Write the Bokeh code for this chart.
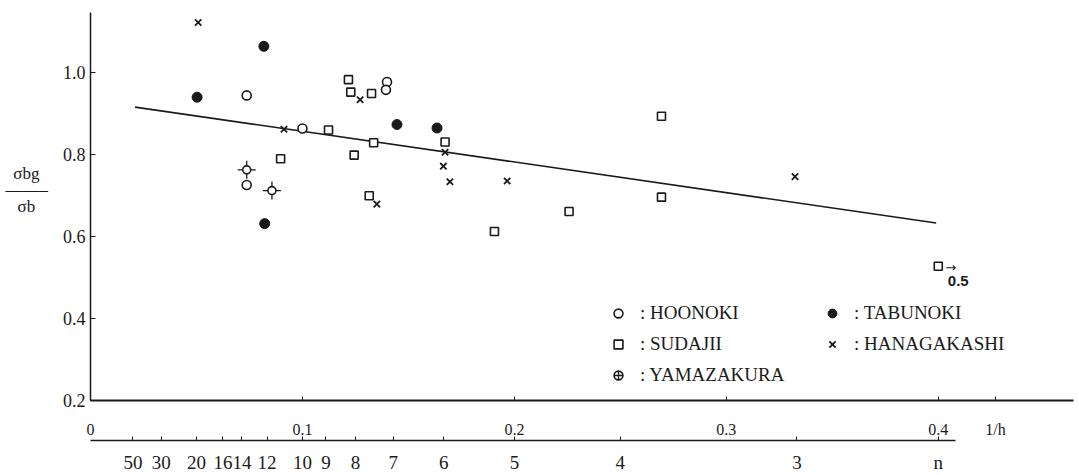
from bokeh.plotting import figure
from bokeh.models import (Range1d, FixedTicker, LinearAxis, CustomJSTickFormatter,
                          PrintfTickFormatter, Label, Legend, LegendItem)
from bokeh.embed import file_html
from bokeh.resources import INLINE

# ---------------- data (x = 1/h, y = sigma_bg / sigma_b) ----------------
hoonoki_x = [0.0737, 0.0737, 0.100, 0.1399, 0.1394]
hoonoki_y = [0.9435, 0.725, 0.863, 0.976, 0.957]

tabunoki_x = [0.0818, 0.0503, 0.0822, 0.1446, 0.1635]
tabunoki_y = [1.063, 0.939, 0.631, 0.8725, 0.864]

sudajii_x = [0.1123, 0.0897, 0.1244, 0.1217, 0.1228, 0.1326, 0.1336, 0.1673,
             0.1315, 0.2258, 0.1906, 0.2694, 0.2694, 0.400]
sudajii_y = [0.859, 0.789, 0.798, 0.982, 0.9515, 0.948, 0.828, 0.830,
             0.699, 0.6606, 0.612, 0.8926, 0.6955, 0.527]

hanagakashi_x = [0.0508, 0.0913, 0.1272, 0.1673, 0.1665, 0.1696, 0.1966, 0.1351, 0.3324]
hanagakashi_y = [1.121, 0.861, 0.933, 0.805, 0.771, 0.733, 0.735, 0.6785, 0.7455]

yamazakura_x = [0.0737, 0.0856]
yamazakura_y = [0.762, 0.7115]

fit_x = [0.021, 0.399]
fit_y = [0.915, 0.6325]

y_ticks = [0.2, 0.4, 0.6, 0.8, 1.0]
x_ticks = [0.0, 0.1, 0.2, 0.3, 0.4]
x_title_pos = 0.427          # where the "1/h" title sits on the 1/h axis
n_ticks = [50, 30, 20, 16, 14, 12, 10, 9, 8, 7, 6, 5, 4, 3]
n_title_pos = 0.4            # where the "n" title sits on the n axis

INK = "#1a1a1a"
SERIF = "Liberation Serif"
NB = "\u00a0"

p = figure(width=1079, height=475,
           x_range=Range1d(0, 0.4638), y_range=Range1d(0.2, 1.1455),
           output_backend="svg", toolbar_location=None,
           min_border_left=90, min_border_right=6, min_border_top=12,
           min_border_bottom=73)
p.outline_line_color = None
p.grid.visible = False
p.background_fill_color = "white"
p.border_fill_color = "white"

# y axis with fraction title (sigma_bg over sigma_b)
yax = p.yaxis[0]
yax.ticker = FixedTicker(ticks=y_ticks)
yax.formatter = PrintfTickFormatter(format="%.1f")
yax.major_tick_in = 5
yax.major_tick_out = 0
yax.minor_tick_in = 0
yax.minor_tick_out = 0
yax.axis_line_width = 1.5
yax.axis_line_color = INK
yax.major_tick_line_color = INK
yax.major_label_text_font = SERIF
yax.major_label_text_font_size = "18px"
yax.major_label_text_color = INK
yax.major_label_standoff = 5
yax.axis_label = "\n".join(["σbg" + NB * 2, "——–", "σb" + NB * 3, NB, NB])
yax.axis_label_orientation = "horizontal"
yax.axis_label_text_font = SERIF
yax.axis_label_text_font_style = "normal"
yax.axis_label_text_font_size = "17px"
yax.axis_label_text_line_height = 0.88
yax.axis_label_text_color = INK
yax.axis_label_standoff = 12

# primary x axis (1/h)
xax = p.xaxis[0]
xax.ticker = FixedTicker(ticks=x_ticks + [x_title_pos])
xax.formatter = CustomJSTickFormatter(
    args=dict(title_pos=x_title_pos),
    code="if (Math.abs(tick - title_pos) < 1e-9) return '1/h';"
         "if (tick == 0) return '0';"
         "return tick.toFixed(1);")
xax.major_tick_in = 4
xax.major_tick_out = 0
xax.minor_tick_in = 0
xax.minor_tick_out = 0
xax.axis_line_width = 2
xax.axis_line_color = INK
xax.major_tick_line_color = INK
xax.major_label_text_font = SERIF
xax.major_label_text_font_size = "16px"
xax.major_label_text_color = INK
xax.major_label_standoff = 20

# secondary x axis (n = 1/(1/h))
nax = LinearAxis(ticker=FixedTicker(ticks=[1.0 / n for n in n_ticks] + [n_title_pos]),
                 formatter=CustomJSTickFormatter(
                     args=dict(title_pos=n_title_pos),
                     code="if (Math.abs(tick - title_pos) < 1e-9) return 'n';"
                          "return String(Math.round(1 / tick));"),
                 bounds=(0, 0.408))
nax.major_tick_in = 4
nax.major_tick_out = 0
nax.minor_tick_in = 0
nax.minor_tick_out = 0
nax.axis_line_width = 1.5
nax.axis_line_color = INK
nax.major_tick_line_color = INK
nax.major_label_text_font = SERIF
nax.major_label_text_font_size = "19px"
nax.major_label_text_color = INK
nax.major_label_standoff = 11
p.add_layout(nax, "below")

# regression line
p.line(fit_x, fit_y, line_color=INK, line_width=1.6)

# series
r_hoo = p.scatter(hoonoki_x, hoonoki_y, marker="circle", size=9, fill_color="white",
                  line_color=INK, line_width=1.6)
r_sud = p.scatter(sudajii_x, sudajii_y, marker="square", size=8, fill_color="white",
                  line_color=INK, line_width=1.6)
r_yam_c = p.scatter(yamazakura_x, yamazakura_y, marker="cross", size=18,
                    line_color=INK, line_width=1.3)
r_yam = p.scatter(yamazakura_x, yamazakura_y, marker="circle", size=8, fill_color="white",
                  line_color=INK, line_width=1.6)
r_tab = p.scatter(tabunoki_x, tabunoki_y, marker="circle", size=10, fill_color=INK,
                  line_color=INK, line_width=1)
r_han = p.scatter(hanagakashi_x, hanagakashi_y, marker="x", size=9,
                  line_color=INK, line_width=1.8)

# off-scale point marker (1/h = 0.5)
p.add_layout(Label(x=sudajii_x[-1], y=sudajii_y[-1], text="→", x_offset=7, y_offset=-1,
                   text_font="DejaVu Sans", text_font_size="13px", text_color=INK,
                   text_baseline="middle"))
p.add_layout(Label(x=sudajii_x[-1], y=sudajii_y[-1], text="0.5", x_offset=20, y_offset=-15,
                   text_font="Liberation Sans", text_font_size="15px", text_font_style="bold",
                   text_color=INK, text_align="center", text_baseline="middle"))

# legends (two columns)
leg_style = dict(padding=0, margin=0, glyph_width=22, glyph_height=22,
                 label_height=22, spacing=9, label_standoff=11,
                 border_line_color=None, background_fill_alpha=0,
                 label_text_font=SERIF, label_text_font_size="19px", label_text_color=INK)
leg1 = Legend(items=[LegendItem(label=": HOONOKI", renderers=[r_hoo]),
                     LegendItem(label=": SUDAJII", renderers=[r_sud]),
                     LegendItem(label=": YAMAZAKURA", renderers=[r_yam, r_yam_c])],
              location=(517, 14), **leg_style)
leg2 = Legend(items=[LegendItem(label=": TABUNOKI", renderers=[r_tab]),
                     LegendItem(label=": HANAGAKASHI", renderers=[r_han])],
              location=(731, 45), **leg_style)
p.add_layout(leg1, "center")
p.add_layout(leg2, "center")

open("out.html", "w").write(file_html(p, INLINE))
